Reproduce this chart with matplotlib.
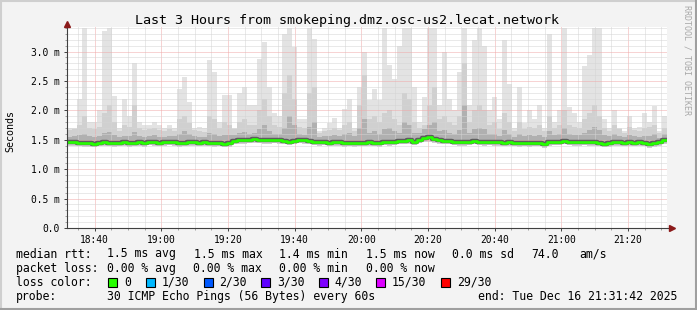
import matplotlib
matplotlib.use('Agg')
import matplotlib.pyplot as plt
import matplotlib.dates as mdates
from matplotlib.ticker import MultipleLocator
from matplotlib.lines import Line2D
from matplotlib.patches import Rectangle
from datetime import datetime, timedelta

# ---- data (ms), one value per 90 s column, 18:31:42 -> 21:31:42 ----
rtt_max = [1.7, 1.7, 2.2, 3.4, 1.8, 1.8, 2.0, 3.35, 3.4, 2.25, 1.7, 2.2, 1.9,
           2.8, 1.8, 1.75, 1.75, 1.8, 1.75, 1.7, 1.75, 1.7, 2.37, 2.57, 2.14,
           1.7, 1.72, 1.7, 2.85, 2.65, 1.8, 2.26, 2.26,
           1.7, 2.3, 2.4, 2.1, 2.1, 2.88, 3.16, 2.4, 1.95, 1.9, 3.3, 3.4,
           3.08, 1.85, 1.85, 3.4,
           3.22, 1.65, 1.7, 1.78, 1.87, 1.7, 2.03, 2.2, 1.7, 2.4,
           3.0, 2.17, 2.37, 2.17, 3.4, 2.77, 2.54, 3.1,
           3.4, 3.4, 2.4, 1.8, 2.23, 3.4,
           3.4, 2.1, 3.0, 2.2, 2.0, 2.65,
           3.4, 2.1, 3.2, 3.4, 3.1, 2.0, 2.23, 1.85,
           3.2, 2.45, 1.7, 2.4, 1.78, 2.0, 1.85, 2.1, 1.7,
           3.3, 1.8, 2.0, 3.4, 2.05, 1.95, 1.8, 2.75, 2.95, 3.4, 3.4, 1.85, 1.7,
           2.0, 1.7, 1.65, 1.9, 1.7, 1.72, 1.95, 1.8, 2.08, 1.65, 1.9]

rtt_hi = [1.66, 1.68, 1.75, 1.9, 1.7, 1.68, 1.72, 1.95, 2.1, 1.8, 1.65, 1.75, 1.72,
          2.1, 1.7, 1.66, 1.68, 1.7, 1.66, 1.65, 1.68, 1.65, 1.85, 1.9, 1.78,
          1.66, 1.65, 1.64, 1.9, 1.85, 1.7, 1.8, 1.75,
          1.68, 1.8, 1.85, 1.75, 1.75, 2.0, 2.2, 1.9, 1.75, 1.72, 2.3, 2.6,
          2.2, 1.72, 1.7, 2.3,
          2.4, 1.62, 1.65, 1.66, 1.7, 1.66, 1.75, 1.8, 1.65, 2.1,
          2.6, 1.85, 1.9, 1.8, 1.95, 2.0, 1.85, 1.75,
          2.3, 2.2, 1.8, 1.7, 1.75, 2.1,
          2.4, 1.85, 1.9, 1.8, 1.75, 1.9,
          2.8, 1.8, 2.0, 2.1, 2.0, 1.75, 1.8, 1.68,
          1.95, 1.8, 1.65, 1.8, 1.68, 1.72, 1.7, 1.75, 1.65,
          1.9, 1.7, 1.75, 2.0, 1.75, 1.72, 1.7, 1.85, 1.95, 2.1, 1.9, 1.7, 1.65,
          1.75, 1.68, 1.62, 1.72, 1.66, 1.65, 1.7, 1.72, 1.75, 1.62, 1.7]

rtt_mid = [1.55, 1.56, 1.58, 1.6, 1.56, 1.55, 1.57, 1.62, 1.64, 1.58, 1.54, 1.57, 1.56,
           1.64, 1.56, 1.55, 1.57, 1.58, 1.55, 1.55, 1.57, 1.56, 1.6, 1.65, 1.6,
           1.56, 1.55, 1.55, 1.62, 1.6, 1.57, 1.58, 1.58,
           1.58, 1.62, 1.64, 1.6, 1.62, 1.68, 1.75, 1.65, 1.6, 1.6, 1.7, 1.9,
           1.75, 1.6, 1.58, 1.72,
           1.8, 1.55, 1.56, 1.56, 1.58, 1.56, 1.6, 1.62, 1.56, 1.7,
           1.85, 1.62, 1.65, 1.6, 1.68, 1.7, 1.65, 1.62,
           1.8, 1.75, 1.62, 1.62, 1.68, 1.75,
           1.8, 1.65, 1.66, 1.62, 1.6, 1.66,
           2.1, 1.62, 1.68, 1.7, 1.68, 1.6, 1.6, 1.56,
           1.66, 1.6, 1.55, 1.6, 1.56, 1.58, 1.57, 1.58, 1.54,
           1.65, 1.58, 1.6, 1.7, 1.6, 1.58, 1.58, 1.62, 1.66, 1.72, 1.66, 1.58, 1.56,
           1.6, 1.57, 1.54, 1.58, 1.56, 1.55, 1.57, 1.56, 1.6, 1.53, 1.6]

rtt_median = [1.46, 1.46, 1.45, 1.44, 1.44, 1.43, 1.45, 1.46, 1.45, 1.44, 1.45, 1.46, 1.44,
              1.45, 1.46, 1.44, 1.47, 1.46, 1.45, 1.46, 1.47, 1.46, 1.44, 1.45, 1.46,
              1.46, 1.45, 1.46, 1.45, 1.44, 1.45, 1.43, 1.44,
              1.48, 1.49, 1.49, 1.5, 1.51, 1.5, 1.49, 1.49, 1.5, 1.49, 1.48, 1.47,
              1.48, 1.5, 1.49, 1.48,
              1.47, 1.46, 1.47, 1.45, 1.46, 1.46, 1.44, 1.45, 1.44, 1.45,
              1.45, 1.46, 1.45, 1.44, 1.47, 1.46, 1.47, 1.48,
              1.48, 1.49, 1.47, 1.5, 1.53, 1.54,
              1.52, 1.49, 1.48, 1.48, 1.47, 1.46,
              1.46, 1.47, 1.48, 1.47, 1.46, 1.47, 1.46, 1.46,
              1.45, 1.46, 1.45, 1.44, 1.45, 1.44, 1.45, 1.45, 1.42,
              1.46, 1.47, 1.47, 1.48, 1.47, 1.46, 1.46, 1.47, 1.46, 1.46, 1.45, 1.43, 1.44,
              1.46, 1.46, 1.45, 1.46, 1.45, 1.46, 1.45, 1.42, 1.44, 1.46, 1.49]

rtt_min = [1.39, 1.4, 1.39, 1.38, 1.38, 1.37, 1.39, 1.4, 1.39, 1.38, 1.39, 1.4, 1.38,
           1.39, 1.4, 1.38, 1.41, 1.4, 1.39, 1.4, 1.41, 1.4, 1.38, 1.39, 1.4,
           1.4, 1.39, 1.4, 1.39, 1.38, 1.39, 1.37, 1.38,
           1.42, 1.43, 1.43, 1.44, 1.44, 1.44, 1.43, 1.43, 1.44, 1.43, 1.42, 1.41,
           1.42, 1.44, 1.43, 1.42,
           1.41, 1.4, 1.41, 1.39, 1.4, 1.4, 1.38, 1.39, 1.38, 1.39,
           1.39, 1.4, 1.39, 1.38, 1.41, 1.4, 1.41, 1.42,
           1.42, 1.43, 1.41, 1.44, 1.46, 1.47,
           1.45, 1.43, 1.42, 1.42, 1.41, 1.4,
           1.4, 1.41, 1.42, 1.41, 1.4, 1.41, 1.4, 1.4,
           1.39, 1.4, 1.39, 1.38, 1.39, 1.38, 1.39, 1.39, 1.36,
           1.4, 1.41, 1.41, 1.42, 1.41, 1.4, 1.4, 1.41, 1.4, 1.4, 1.39, 1.37, 1.38,
           1.4, 1.4, 1.39, 1.4, 1.39, 1.4, 1.39, 1.36, 1.38, 1.4, 1.43]

ytick_vals = [0.0, 0.5, 1.0, 1.5, 2.0, 2.5, 3.0]
ytick_labels = ['0.0', '0.5 m', '1.0 m', '1.5 m', '2.0 m', '2.5 m', '3.0 m']

title = 'Last 3 Hours from smokeping.dmz.osc-us2.lecat.network'

row_rtt = [('median rtt:', 16), ('1.5 ms avg', 107.3), ('1.5 ms max', 194),
           ('1.4 ms min', 279.3), ('1.5 ms now', 366), ('0.0 ms sd', 451.7),
           ('74.0', 531), ('am/s', 579.3)]
row_loss = [('packet loss:', 16), ('0.00 % avg', 107.3), ('0.00 % max', 193.3),
            ('0.00 % min', 279.3), ('0.00 % now', 366)]
loss_labels = ['0', '1/30', '2/30', '3/30', '4/30', '15/30', '29/30']
loss_colors = ['#26ff00', '#00b8ff', '#0059ff', '#5e00ff', '#7e00ff', '#dd00ff', '#ff0000']
loss_box_x = [108, 146, 203.5, 261, 318.5, 376, 441]
row_probe = [('probe:', 16), ('30 ICMP Echo Pings (56 Bytes) every 60s', 107.3),
             ('end: Tue Dec 16 21:31:42 2025', 478.3)]

# ---- figure ----
W, H = 697, 310
MONO = 'DejaVu Sans Mono'
plt.rcParams['font.family'] = MONO

fig = plt.figure(figsize=(W / 100, H / 100), dpi=100, facecolor='#f3f3f3')

def fx(px):
    return px / W

def fy(py):
    return 1 - py / H

ax = fig.add_axes([fx(67), fy(228), 600 / W, (228 - 27) / H])
ax.set_facecolor('white')

start = datetime(2025, 12, 16, 18, 31, 42)
end = start + timedelta(hours=3)
edges = [start + timedelta(seconds=90 * i) for i in range(len(rtt_max) + 1)]

def ext(a):
    return list(a) + [a[-1]]

# smoke, outer to inner
ax.fill_between(edges, ext(rtt_min), ext(rtt_max), step='post', color='#e3e3e3', lw=0, zorder=1)
ax.fill_between(edges, ext(rtt_min), ext(rtt_hi), step='post', color='#d0d0d0', lw=0, zorder=1)
ax.fill_between(edges, ext(rtt_median), ext(rtt_mid), step='post', color='#b0b0b0', lw=0, zorder=1)
ax.step(edges, ext(rtt_median), where='post', color='#484848', lw=3.2, zorder=3, alpha=0.8)
ax.step(edges, ext(rtt_median), where='post', color='#26ff00', lw=1.9, zorder=3)

ax.set_xlim(start, end)
ax.set_ylim(0, 3.418)
ax.xaxis.set_major_locator(mdates.MinuteLocator(byminute=[0, 20, 40]))
ax.xaxis.set_minor_locator(mdates.MinuteLocator(byminute=range(0, 60, 5)))
ax.xaxis.set_major_formatter(mdates.DateFormatter('%H:%M'))
ax.set_yticks(ytick_vals)
ax.set_yticklabels(ytick_labels)
ax.yaxis.set_minor_locator(MultipleLocator(0.1))

ax.set_axisbelow(False)
ax.grid(which='minor', color='#d4d4d4', linestyle=(0, (1, 1)), lw=0.72)
ax.grid(which='major', color='#f0a8a8', linestyle=(0, (1, 1)), lw=0.72)

for s in ax.spines.values():
    s.set_visible(False)
ax.tick_params(which='major', length=2.5, width=0.7, color='#404040', labelsize=6.9, pad=3)
ax.tick_params(which='minor', length=1.5, width=0.7, color='#a0a0a0')
ax.tick_params(axis='x', which='major', pad=2.5)

# axis lines with arrows
ax.plot([0, 1 + 2 / 600], [0, 0], transform=ax.transAxes, clip_on=False,
        color='#404040', lw=0.8, zorder=4)
ax.plot([0, 0], [0, 1], transform=ax.transAxes, clip_on=False,
        color='#404040', lw=0.8, zorder=4)
ax.plot([1 + 5 / 600], [0], marker='>', ms=4, color='#8b1a1a', mec='#8b1a1a',
        transform=ax.transAxes, clip_on=False, zorder=5)
ax.plot([0], [1 + 3 / 201], marker='^', ms=4, color='#8b1a1a', mec='#8b1a1a',
        transform=ax.transAxes, clip_on=False, zorder=5)

# texts
fig.text(fx(347), fy(24), title, ha='center', va='baseline', fontsize=9.6)
fig.text(fx(10), fy(131), 'Seconds', rotation=90, ha='center', va='center', fontsize=7.2)
fig.text(fx(687), fy(5), 'RRDTOOL / TOBI OETIKER', rotation=270, ha='center', va='top',
         fontsize=6, color='#a8a8a8')

LFS = 8.3
for txt, x in row_rtt:
    fig.text(fx(x), fy(257.5), txt, va='baseline', fontsize=LFS)
for txt, x in row_loss:
    fig.text(fx(x), fy(271.7), txt, va='baseline', fontsize=LFS)
fig.text(fx(16), fy(285.7), 'loss color:', va='baseline', fontsize=LFS)
for lab, col, bx in zip(loss_labels, loss_colors, loss_box_x):
    fig.add_artist(Rectangle((fx(bx), fy(286.5)), 9 / W, 9 / H, transform=fig.transFigure,
                             facecolor=col, edgecolor='black', lw=0.8))
    fig.text(fx(bx + 16), fy(285.7), lab, va='baseline', fontsize=LFS)
for txt, x in row_probe:
    fig.text(fx(x), fy(300), txt, va='baseline', fontsize=LFS)

# frame
fig.add_artist(Line2D([0, 1], [fy(0.8), fy(0.8)], transform=fig.transFigure, color='#cfcfcf', lw=1.5))
fig.add_artist(Line2D([fx(0.8), fx(0.8)], [0, 1], transform=fig.transFigure, color='#cfcfcf', lw=1.5))
fig.add_artist(Line2D([0, 1], [fy(309), fy(309)], transform=fig.transFigure, color='#9f9f9f', lw=1.5))
fig.add_artist(Line2D([fx(696), fx(696)], [0, 1], transform=fig.transFigure, color='#9f9f9f', lw=1.5))

fig.savefig('out.png', dpi=100, facecolor=fig.get_facecolor())
